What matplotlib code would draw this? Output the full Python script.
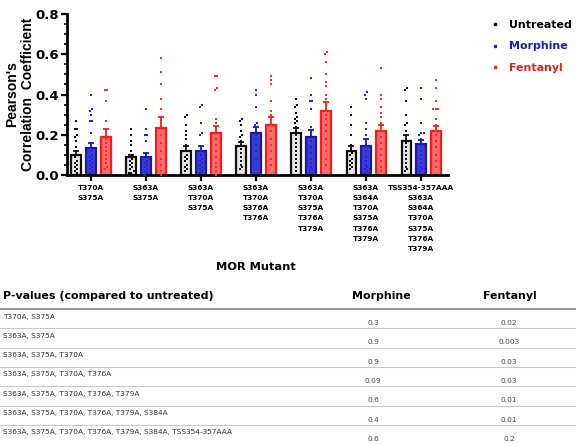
import numpy as np
import matplotlib
matplotlib.use("Agg")
import matplotlib.pyplot as plt
from matplotlib.lines import Line2D
from matplotlib.ticker import MultipleLocator

# ---------------- data ----------------
groups = ["T370A\nS375A",
          "S363A\nS375A",
          "S363A\nT370A\nS375A",
          "S363A\nT370A\nS376A\nT376A",
          "S363A\nT370A\nS375A\nT376A\nT379A",
          "S363A\nS364A\nT370A\nS375A\nT376A\nT379A",
          "TSS354-357AAA\nS363A\nS364A\nT370A\nS375A\nT376A\nT379A"]
series = ["Untreated", "Morphine", "Fentanyl"]

mean_untreated = [0.100, 0.088, 0.120, 0.143, 0.210, 0.118, 0.170]
mean_morphine  = [0.133, 0.088, 0.118, 0.210, 0.190, 0.143, 0.152]
mean_fentanyl  = [0.190, 0.233, 0.210, 0.248, 0.317, 0.217, 0.220]

sem_untreated = [0.018, 0.012, 0.023, 0.020, 0.025, 0.025, 0.030]
sem_morphine  = [0.025, 0.020, 0.025, 0.028, 0.035, 0.034, 0.023]
sem_fentanyl  = [0.040, 0.055, 0.035, 0.040, 0.046, 0.030, 0.023]

pts_untreated = [
    [0.27, 0.23, 0.23, 0.20, 0.19, 0.17, 0.14, 0.12, 0.10, 0.09, 0.07, 0.06, 0.05, 0.04, 0.03, 0.02, 0.01, 0.00],
    [0.23, 0.20, 0.17, 0.15, 0.12, 0.10, 0.09, 0.08, 0.07, 0.06, 0.05, 0.04, 0.03, 0.02, 0.01, 0.01],
    [0.30, 0.29, 0.25, 0.22, 0.20, 0.18, 0.15, 0.12, 0.10, 0.09, 0.08, 0.07, 0.05, 0.04, 0.03, 0.02],
    [0.28, 0.27, 0.25, 0.22, 0.20, 0.19, 0.17, 0.15, 0.13, 0.11, 0.09, 0.07, 0.05, 0.04, 0.03],
    [0.38, 0.35, 0.34, 0.31, 0.29, 0.28, 0.27, 0.26, 0.24, 0.22, 0.20, 0.18, 0.16, 0.14, 0.12, 0.10, 0.08, 0.06, 0.04, 0.02],
    [0.34, 0.30, 0.25, 0.20, 0.15, 0.13, 0.11, 0.10, 0.08, 0.07, 0.06, 0.05, 0.04, 0.03],
    [0.43, 0.42, 0.37, 0.30, 0.26, 0.25, 0.22, 0.20, 0.18, 0.16, 0.14, 0.12, 0.10, 0.08, 0.06, 0.04, 0.03, 0.02],
]
pts_morphine = [
    [0.40, 0.33, 0.32, 0.30, 0.27, 0.27, 0.21, 0.16, 0.14, 0.12, 0.10, 0.09, 0.08, 0.07, 0.06, 0.05, 0.04, 0.03, 0.02, 0.01],
    [0.33, 0.23, 0.20, 0.20, 0.17, 0.10, 0.07, 0.06, 0.05, 0.04, 0.03, 0.02, 0.01, 0.00],
    [0.35, 0.34, 0.26, 0.21, 0.20, 0.14, 0.12, 0.10, 0.08, 0.07, 0.06, 0.05, 0.04, 0.03, 0.02, 0.01],
    [0.42, 0.40, 0.34, 0.26, 0.25, 0.22, 0.20, 0.18, 0.15, 0.12, 0.08],
    [0.48, 0.40, 0.37, 0.37, 0.33, 0.24, 0.22, 0.20, 0.17, 0.14, 0.11, 0.08, 0.06, 0.04, 0.03, 0.02],
    [0.41, 0.40, 0.38, 0.26, 0.23, 0.20, 0.16, 0.12, 0.09, 0.07, 0.05, 0.04, 0.03, 0.02, 0.01],
    [0.43, 0.38, 0.26, 0.21, 0.21, 0.20, 0.18, 0.15, 0.12, 0.10, 0.08, 0.06, 0.04, 0.03, 0.02],
]
pts_fentanyl = [
    [0.42, 0.42, 0.37, 0.27, 0.22, 0.20, 0.18, 0.16, 0.14, 0.12, 0.10, 0.08, 0.06, 0.04, 0.03],
    [0.58, 0.51, 0.45, 0.38, 0.33, 0.28, 0.24, 0.20, 0.16, 0.12, 0.08, 0.05, 0.02, 0.00],
    [0.49, 0.49, 0.43, 0.42, 0.28, 0.26, 0.22, 0.18, 0.15, 0.12, 0.09, 0.06, 0.04, 0.02, 0.00],
    [0.49, 0.47, 0.45, 0.37, 0.32, 0.30, 0.25, 0.22, 0.18, 0.15, 0.12, 0.08, 0.05],
    [0.61, 0.60, 0.56, 0.50, 0.46, 0.44, 0.40, 0.38, 0.35, 0.32, 0.30, 0.28, 0.25, 0.22, 0.18, 0.15, 0.12, 0.08, 0.05],
    [0.53, 0.40, 0.38, 0.34, 0.31, 0.29, 0.26, 0.24, 0.22, 0.19, 0.16, 0.13, 0.10, 0.07, 0.04, 0.02],
    [0.47, 0.43, 0.37, 0.33, 0.33, 0.33, 0.28, 0.25, 0.22, 0.20, 0.17, 0.14, 0.10, 0.07, 0.04],
]

table_title = "P-values (compared to untreated)"
table_cols = ["Morphine", "Fentanyl"]
table_rows = ["T370A, S375A",
              "S363A, S375A",
              "S363A, S375A, T370A",
              "S363A, S375A, T370A, T376A",
              "S363A, S375A, T370A, T376A, T379A",
              "S363A, S375A, T370A, T376A, T379A, S384A",
              "S363A, S375A, T370A, T376A, T379A, S384A, TSS354-357AAA"]
p_morphine = ["0.3", "0.9", "0.9", "0.09", "0.6", "0.4", "0.6"]
p_fentanyl = ["0.02", "0.003", "0.03", "0.03", "0.01", "0.01", "0.2"]

# ---------------- style ----------------
W, H = 576, 444
fig = plt.figure(figsize=(W / 100, H / 100), dpi=100)
FONT = "DejaVu Sans"

edge_cols = ["#111111", "#1a1aa8", "#ff1a1a"]
face_cols = ["#e6e6e6", "#3c3cd2", "#ff6b6b"]
pt_cols = ["#111111", "#2323dd", "#ff2a2a"]
legend_text_cols = ["#000000", "#1a1ab4", "#ee1c1c"]

ax = fig.add_axes([67 / W, 1 - 175 / H, (448 - 67) / W, (175 - 14) / H])

x = np.arange(len(groups))
offsets = [-0.27, 0.0, 0.27]
bw = 0.17
means = [mean_untreated, mean_morphine, mean_fentanyl]
sems = [sem_untreated, sem_morphine, sem_fentanyl]
pts = [pts_untreated, pts_morphine, pts_fentanyl]


def swarm(vals, tol=0.013, dx=0.045):
    vals = np.sort(np.asarray(vals, float))
    xs = np.zeros_like(vals)
    i = 0
    while i < len(vals):
        j = i
        while j + 1 < len(vals) and vals[j + 1] - vals[i] < tol:
            j += 1
        n = j - i + 1
        xs[i:j + 1] = (np.arange(n) - (n - 1) / 2) * dx
        i = j + 1
    return xs, vals


for s in range(3):
    xp = x + offsets[s]
    ax.bar(xp, means[s], width=bw, color=face_cols[s], edgecolor=edge_cols[s],
           linewidth=1.6, zorder=2)
    ax.errorbar(xp, means[s], yerr=[np.zeros(len(x)), sems[s]], fmt="none",
                ecolor=edge_cols[s], elinewidth=1.3, capsize=2.5, capthick=1.3,
                zorder=3)
    for g in range(len(x)):
        dxs, vs = swarm(pts[s][g])
        ax.scatter(xp[g] + dxs, vs, s=2.5, marker="s", color=pt_cols[s],
                   linewidths=0, zorder=4)

ax.set_xlim(-0.436, 6.49)
ax.set_ylim(0, 0.8)
ax.yaxis.set_major_locator(MultipleLocator(0.2))
ax.yaxis.set_minor_locator(MultipleLocator(0.05))
ax.set_yticks([0, 0.2, 0.4, 0.6, 0.8])
ax.set_yticklabels(["0.0", "0.2", "0.4", "0.6", "0.8"], fontsize=9.5,
                   fontweight="bold", family=FONT)
ax.set_xticks(x)
ax.set_xticklabels(groups, fontsize=5.3, fontweight="bold", family=FONT,
                   linespacing=1.85, va="top")
ax.tick_params(axis="y", which="major", length=4, width=1.6, pad=2)
ax.tick_params(axis="y", which="minor", length=2.5, width=1.2)
ax.tick_params(axis="x", which="major", length=4, width=1.6, pad=3)
for side in ["top", "right"]:
    ax.spines[side].set_visible(False)
for side in ["left", "bottom"]:
    ax.spines[side].set_linewidth(2.0)

ax.set_ylabel("Pearson's\nCorrelation  Coefficient", fontsize=10,
              fontweight="bold", family="Liberation Sans", linespacing=1.2,
              labelpad=0)
fig.text(256 / W, 1 - 267 / H, "MOR Mutant", fontsize=8.2, fontweight="bold",
         family=FONT, ha="center", va="center")

handles = [Line2D([], [], linestyle="none", marker="s", markersize=1.6,
                  color=pt_cols[s]) for s in range(3)]
leg = fig.legend(handles, series, loc="upper left",
                 bbox_to_anchor=(480 / W, 1 - 10 / H), frameon=False,
                 prop={"family": FONT, "weight": "bold", "size": 7.9},
                 labelspacing=1.05, handlelength=1.0, handletextpad=0.75,
                 labelcolor=legend_text_cols)

# ---------------- table ----------------
fig.text(3 / W, 1 - 296 / H, table_title, fontsize=7.9, fontweight="bold",
         family=FONT, ha="left", va="center")
col_x = [381 / W, 510 / W]
for cx, c in zip(col_x, table_cols):
    fig.text(cx, 1 - 296 / H, c, fontsize=7.9, fontweight="bold",
             family=FONT, ha="center", va="center")
fig.add_artist(Line2D([0, 1], [1 - 309 / H, 1 - 309 / H], color="#9a9a9a",
                      linewidth=1.4, transform=fig.transFigure))
pitch = 19.3
for i, (r, pm, pf) in enumerate(zip(table_rows, p_morphine, p_fentanyl)):
    top = 309 + i * pitch
    if i > 0:
        fig.add_artist(Line2D([0, 1], [1 - top / H, 1 - top / H],
                              color="#c8c8c8", linewidth=0.8,
                              transform=fig.transFigure))
    fig.text(3 / W, 1 - (top + 7.5) / H, r, fontsize=5.3, color="#333333",
             family=FONT, ha="left", va="center")
    fig.text(373 / W, 1 - (top + 14) / H, pm, fontsize=5.3, color="#444444",
             family=FONT, ha="center", va="center")
    fig.text(509 / W, 1 - (top + 14) / H, pf, fontsize=5.3, color="#444444",
             family=FONT, ha="center", va="center")

fig.savefig("out.png", dpi=100)
